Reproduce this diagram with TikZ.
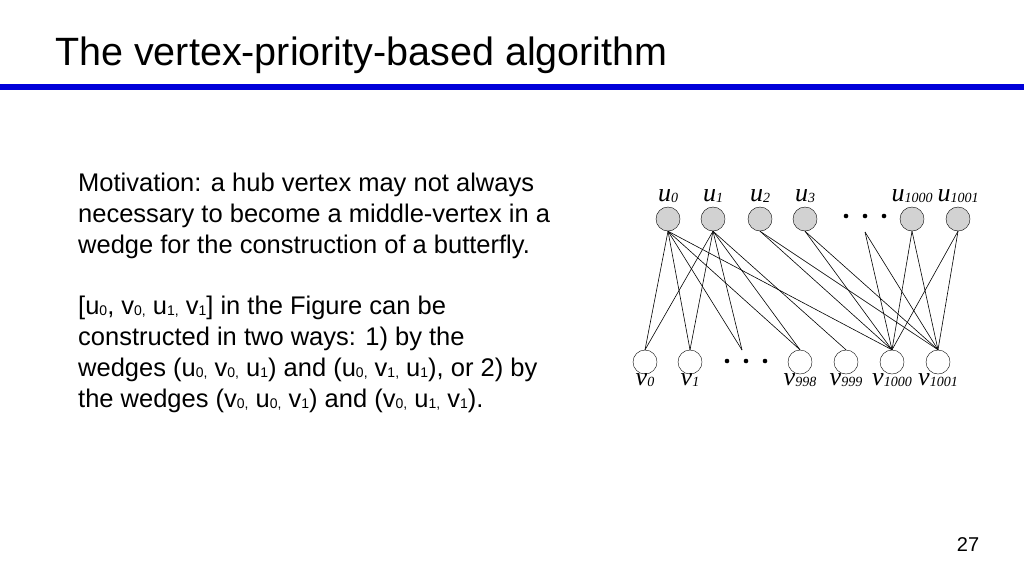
\documentclass[tikz,border=0pt]{standalone}
\usepackage{fontspec}
\setmainfont{Liberation Sans}
\newfontfamily\serifit{Liberation Serif}
\newcommand{\sbs}[1]{\raisebox{-1pt}{\fontsize{14}{14}\selectfont #1}}
\newcommand{\glab}[2]{{\serifit\itshape\fontsize{26}{26}\selectfont #1\raisebox{-1pt}{\fontsize{14}{14}\selectfont #2}}}
\begin{document}
\begin{tikzpicture}[x=1pt,y=-1pt,
  unode/.style={circle,draw,fill=gray!35,minimum size=24pt,inner sep=0pt},
  vnode/.style={circle,draw,fill=white,minimum size=24pt,inner sep=0pt},
  edge/.style={draw,line width=0.6pt},
  body/.style={anchor=north west,align=left,font=\fontsize{25.5}{31}\selectfont,inner sep=0pt}]
\useasboundingbox (0,0) rectangle (1024,576);
\node[anchor=west,font=\fontsize{39.5}{40}\selectfont,inner sep=0pt] (title) at (55,55) {The vertex-priority-based algorithm};
\fill[blue!85!black] (0,84) rectangle (1024,90);
\node[body] (t1) at (78,173) {Motivation: a hub vertex may not always\\necessary to become a middle-vertex in a\\wedge for the construction of a butterfly.};
\node[body] (t2) at (78,296) {[u\sbs{0}, v\sbs{0,} u\sbs{1,} v\sbs{1}] in the Figure can be\\constructed in two ways: 1) by the\\wedges (u\sbs{0,} v\sbs{0,} u\sbs{1}) and (u\sbs{0,} v\sbs{1,} u\sbs{1}), or 2) by\\the wedges (v\sbs{0,} u\sbs{0,} v\sbs{1}) and (v\sbs{0,} u\sbs{1,} v\sbs{1}).};
\node[font=\fontsize{20}{20}\selectfont] (pg) at (968,545) {27};
% graph
\foreach \n/\x in {0/668,1/713,2/760,3/805,1000/912,1001/958}
  \node[unode] (u\n) at (\x,219) {};
\foreach \n/\x in {0/645,1/690,998/800,999/846,1000/892,1001/938}
  \node[vnode] (v\n) at (\x,362) {};
\foreach \n/\x in {0/668,1/713,2/760,3/805,1000/912,1001/958}
  \node[anchor=south] (lu\n) at (\x,206) {\glab{u}{\n}};
\foreach \n/\x in {0/645,1/690,998/800,999/846,1000/892,1001/938}
  \node[anchor=north] (lv\n) at (\x,370) {\glab{v}{\n}};
\coordinate (dv) at (742,350);
\coordinate (du) at (865,232);
\foreach \x in {846,865,884} \fill (\x,216) circle (2.3pt);
\foreach \x in {727,746,765} \fill (\x,361) circle (2.3pt);
\foreach \t in {v0,v1,dv,v998,v1000} \draw[edge] (u0.south) -- (\t.north);
\foreach \t in {v0,v1,dv,v998,v999} \draw[edge] (u1.south) -- (\t.north);
\foreach \t in {v1000,v1001} {
  \draw[edge] (u2.south) -- (\t.north);
  \draw[edge] (u3.south) -- (\t.north);
  \draw[edge] (du) -- (\t.north);
  \draw[edge] (u1000.south) -- (\t.north);
  \draw[edge] (u1001.south) -- (\t.north);
}
\end{tikzpicture}
\end{document}
